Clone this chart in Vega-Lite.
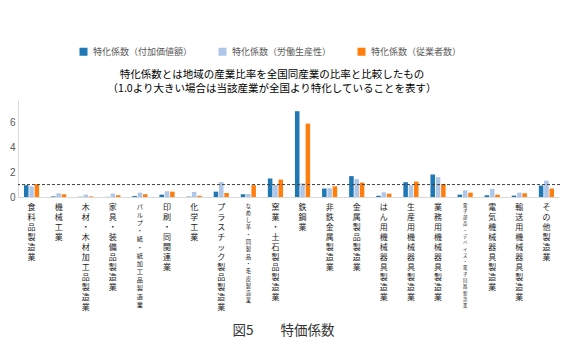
{
  "$schema": "https://vega.github.io/schema/vega-lite/v6.json",
  "autosize": {"type": "none"},
  "width": 542,
  "height": 97,
  "padding": {"left": 18, "top": 100, "right": 6, "bottom": 156},
  "background": "white",
  "config": {
    "font": "Noto Sans CJK JP",
    "view": {"stroke": null}
  },
  "title": {
    "text": ["特化係数とは地域の産業比率を全国同産業の比率と比較したもの", "（1.0より大きい場合は当該産業が全国より特化していることを表す）"],
    "fontSize": 10.5,
    "fontWeight": "normal",
    "color": "#000000",
    "lineHeight": 13.5,
    "anchor": "middle",
    "frame": "group",
    "dx": -17,
    "offset": -47
  },
  "data": {
    "values": [
      {"産業": "食料品製造業", "系列": "特化係数（付加価値額）", "値": 0.95},
      {"産業": "食料品製造業", "系列": "特化係数（労働生産性）", "値": 0.85},
      {"産業": "食料品製造業", "系列": "特化係数（従業者数）", "値": 1.03},
      {"産業": "機械工業", "系列": "特化係数（付加価値額）", "値": 0.05},
      {"産業": "機械工業", "系列": "特化係数（労働生産性）", "値": 0.3},
      {"産業": "機械工業", "系列": "特化係数（従業者数）", "値": 0.22},
      {"産業": "木材・木材加工品製造業", "系列": "特化係数（付加価値額）", "値": 0.02},
      {"産業": "木材・木材加工品製造業", "系列": "特化係数（労働生産性）", "値": 0.19},
      {"産業": "木材・木材加工品製造業", "系列": "特化係数（従業者数）", "値": 0.05},
      {"産業": "家具・装備品製造業", "系列": "特化係数（付加価値額）", "値": 0.01},
      {"産業": "家具・装備品製造業", "系列": "特化係数（労働生産性）", "値": 0.27},
      {"産業": "家具・装備品製造業", "系列": "特化係数（従業者数）", "値": 0.14},
      {"産業": "パルプ・紙・紙加工品製造業", "系列": "特化係数（付加価値額）", "値": 0.08},
      {"産業": "パルプ・紙・紙加工品製造業", "系列": "特化係数（労働生産性）", "値": 0.35},
      {"産業": "パルプ・紙・紙加工品製造業", "系列": "特化係数（従業者数）", "値": 0.22},
      {"産業": "印刷・同関連業", "系列": "特化係数（付加価値額）", "値": 0.19},
      {"産業": "印刷・同関連業", "系列": "特化係数（労働生産性）", "値": 0.46},
      {"産業": "印刷・同関連業", "系列": "特化係数（従業者数）", "値": 0.43},
      {"産業": "化学工業", "系列": "特化係数（付加価値額）", "値": 0.03},
      {"産業": "化学工業", "系列": "特化係数（労働生産性）", "値": 0.4},
      {"産業": "化学工業", "系列": "特化係数（従業者数）", "値": 0.1},
      {"産業": "プラスチック製品製造業", "系列": "特化係数（付加価値額）", "値": 0.43},
      {"産業": "プラスチック製品製造業", "系列": "特化係数（労働生産性）", "値": 1.2},
      {"産業": "プラスチック製品製造業", "系列": "特化係数（従業者数）", "値": 0.32},
      {"産業": "なめし革・同製品・毛皮製造業", "系列": "特化係数（付加価値額）", "値": 0.22},
      {"産業": "なめし革・同製品・毛皮製造業", "系列": "特化係数（労働生産性）", "値": 0.24},
      {"産業": "なめし革・同製品・毛皮製造業", "系列": "特化係数（従業者数）", "値": 0.95},
      {"産業": "窯業・土石製品製造業", "系列": "特化係数（付加価値額）", "値": 1.49},
      {"産業": "窯業・土石製品製造業", "系列": "特化係数（労働生産性）", "値": 0.97},
      {"産業": "窯業・土石製品製造業", "系列": "特化係数（従業者数）", "値": 1.4},
      {"産業": "鉄鋼業", "系列": "特化係数（付加価値額）", "値": 6.9},
      {"産業": "鉄鋼業", "系列": "特化係数（労働生産性）", "値": 1.1},
      {"産業": "鉄鋼業", "系列": "特化係数（従業者数）", "値": 5.9},
      {"産業": "非鉄金属製造業", "系列": "特化係数（付加価値額）", "値": 0.68},
      {"産業": "非鉄金属製造業", "系列": "特化係数（労働生産性）", "値": 0.7},
      {"産業": "非鉄金属製造業", "系列": "特化係数（従業者数）", "値": 0.86},
      {"産業": "金属製品製造業", "系列": "特化係数（付加価値額）", "値": 1.68},
      {"産業": "金属製品製造業", "系列": "特化係数（労働生産性）", "値": 1.43},
      {"産業": "金属製品製造業", "系列": "特化係数（従業者数）", "値": 1.16},
      {"産業": "はん用機械器具製造業", "系列": "特化係数（付加価値額）", "値": 0.1},
      {"産業": "はん用機械器具製造業", "系列": "特化係数（労働生産性）", "値": 0.38},
      {"産業": "はん用機械器具製造業", "系列": "特化係数（従業者数）", "値": 0.27},
      {"産業": "生産用機械器具製造業", "系列": "特化係数（付加価値額）", "値": 1.19},
      {"産業": "生産用機械器具製造業", "系列": "特化係数（労働生産性）", "値": 0.95},
      {"産業": "生産用機械器具製造業", "系列": "特化係数（従業者数）", "値": 1.24},
      {"産業": "業務用機械器具製造業", "系列": "特化係数（付加価値額）", "値": 1.81},
      {"産業": "業務用機械器具製造業", "系列": "特化係数（労働生産性）", "値": 1.6},
      {"産業": "業務用機械器具製造業", "系列": "特化係数（従業者数）", "値": 1.05},
      {"産業": "電子部品・デバイス・電子回路製造業", "系列": "特化係数（付加価値額）", "値": 0.19},
      {"産業": "電子部品・デバイス・電子回路製造業", "系列": "特化係数（労働生産性）", "値": 0.54},
      {"産業": "電子部品・デバイス・電子回路製造業", "系列": "特化係数（従業者数）", "値": 0.35},
      {"産業": "電気機械器具製造業", "系列": "特化係数（付加価値額）", "値": 0.14},
      {"産業": "電気機械器具製造業", "系列": "特化係数（労働生産性）", "値": 0.65},
      {"産業": "電気機械器具製造業", "系列": "特化係数（従業者数）", "値": 0.19},
      {"産業": "輸送用機械器具製造業", "系列": "特化係数（付加価値額）", "値": 0.11},
      {"産業": "輸送用機械器具製造業", "系列": "特化係数（労働生産性）", "値": 0.35},
      {"産業": "輸送用機械器具製造業", "系列": "特化係数（従業者数）", "値": 0.3},
      {"産業": "その他製造業", "系列": "特化係数（付加価値額）", "値": 0.92},
      {"産業": "その他製造業", "系列": "特化係数（労働生産性）", "値": 1.32},
      {"産業": "その他製造業", "系列": "特化係数（従業者数）", "値": 0.68}
    ]
  },
  "layer": [
    {
      "mark": {"type": "bar"},
      "encoding": {
        "x": {
          "field": "産業",
          "type": "nominal",
          "sort": null,
          "scale": {"paddingInner": 0.44, "paddingOuter": 0.22},
          "axis": {
            "title": "図5　　特価係数",
            "titleFontSize": 13.5,
            "titleFontWeight": "normal",
            "titleColor": "#333333",
            "titleBaseline": "middle",
            "titleAlign": "center",
            "titleX": 265,
            "titleY": 133,
            "labelAngle": 0,
            "labelAlign": "center",
            "labelBaseline": "top",
            "labelPadding": 6,
            "labelColor": "#1a1a1a",
            "labelExpr": "split(datum.label, '')",
            "labelLimit": 0,
            "labelFontSize": {
              "condition": [
                {"test": "datum.value === 'なめし革・同製品・毛皮製造業'", "value": 5.3},
                {"test": "datum.value === '電子部品・デバイス・電子回路製造業'", "value": 4.3},
                {"test": "datum.value === 'パルプ・紙・紙加工品製造業'", "value": 6.2}
              ],
              "value": 8
            },
            "ticks": false,
            "domainColor": "#d9d9d9",
            "labelOverlap": false
          }
        },
        "xOffset": {
          "field": "系列",
          "type": "nominal",
          "sort": ["特化係数（付加価値額）", "特化係数（労働生産性）", "特化係数（従業者数）"],
          "scale": {"paddingInner": 0.15}
        },
        "y": {
          "field": "値",
          "type": "quantitative",
          "scale": {"domain": [0, 7.8], "nice": false},
          "axis": {
            "title": null,
            "values": [0, 2, 4, 6],
            "tickCount": 10,
            "grid": false,
            "ticks": false,
            "domainColor": "#d9d9d9",
            "labelColor": "#595959",
            "labelFontSize": 10,
            "labelFont": "Liberation Sans",
            "labelPadding": 3,
            "labelOverlap": false
          }
        },
        "color": {
          "field": "系列",
          "type": "nominal",
          "sort": ["特化係数（付加価値額）", "特化係数（労働生産性）", "特化係数（従業者数）"],
          "scale": {"range": ["#1f77b4", "#aec7e8", "#ff7f0e"]},
          "legend": {
            "title": null,
            "orient": "none",
            "direction": "horizontal",
            "legendX": 61,
            "legendY": -53,
            "symbolType": "square",
            "symbolSize": 64,
            "symbolStrokeWidth": 0,
            "labelFontSize": 9,
            "labelColor": "#595959",
            "labelOffset": 5,
            "columnPadding": 25
          }
        }
      }
    },
    {
      "data": {"values": [{"基準": 1.0}]},
      "mark": {"type": "rule", "strokeDash": [3, 2], "color": "#404040", "strokeWidth": 1},
      "encoding": {
        "y": {"field": "基準", "type": "quantitative"}
      }
    }
  ]
}
